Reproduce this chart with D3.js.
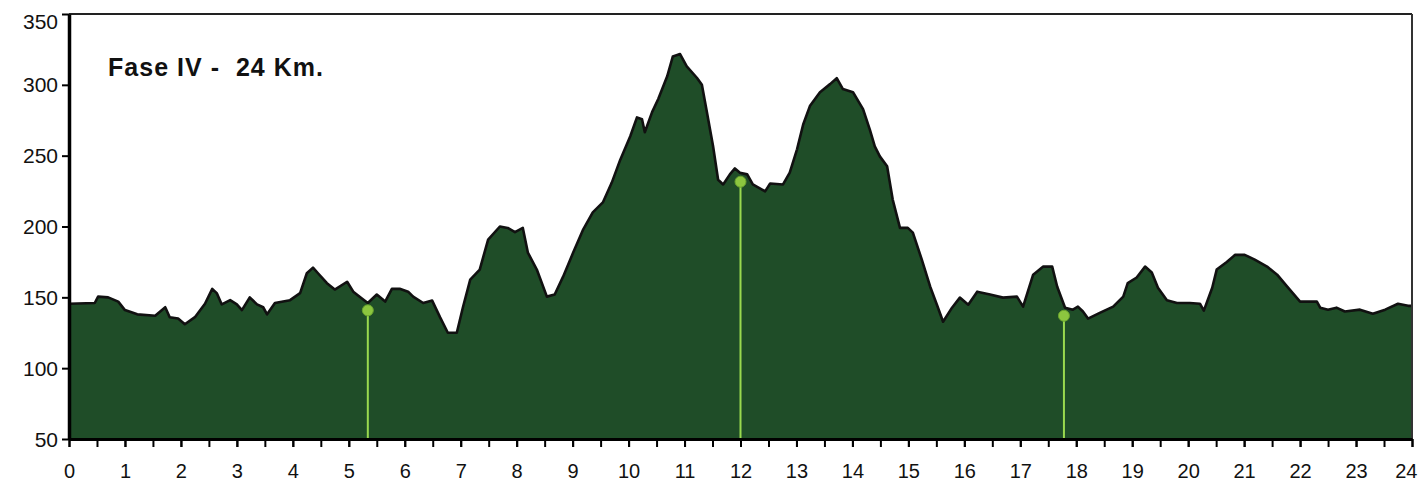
<!DOCTYPE html>
<html>
<head>
<meta charset="utf-8">
<script src="https://cdn.jsdelivr.net/npm/d3@7"></script>
<style>
  body { margin: 0; background: #fff; }
  svg { display: block; }
  text { font-family: "Liberation Sans", Arial, sans-serif; }
</style>
</head>
<body>
<div id="profile"></div>
<script>
// Elevation profile (km, metres)
var km = [0.00, 0.46, 0.52, 0.70, 0.88, 1.00, 1.22, 1.54, 1.72, 1.80, 1.95, 2.07, 2.25, 2.43, 2.56, 2.64, 2.73, 2.88, 3.00, 3.09,
  3.23, 3.36, 3.47, 3.54, 3.68, 3.95, 4.13, 4.25, 4.36, 4.45, 4.61, 4.75, 4.97, 5.08, 5.24, 5.34, 5.50, 5.65, 5.77, 5.91,
  6.06, 6.15, 6.33, 6.49, 6.63, 6.77, 6.93, 7.04, 7.17, 7.34, 7.49, 7.70, 7.84, 7.97, 8.11, 8.20, 8.36, 8.54, 8.68, 8.83,
  9.01, 9.19, 9.36, 9.54, 9.70, 9.85, 10.03, 10.15, 10.24, 10.29, 10.42, 10.53, 10.69, 10.79, 10.92, 11.04, 11.22, 11.31, 11.40, 11.51,
  11.60, 11.69, 11.81, 11.90, 11.99, 12.12, 12.22, 12.44, 12.53, 12.76, 12.88, 13.01, 13.12, 13.24, 13.42, 13.60, 13.72, 13.83, 14.01, 14.19,
  14.31, 14.40, 14.49, 14.62, 14.72, 14.85, 14.99, 15.08, 15.24, 15.39, 15.51, 15.62, 15.78, 15.92, 16.07, 16.23, 16.46, 16.69, 16.94, 17.05,
  17.23, 17.41, 17.57, 17.66, 17.80, 17.94, 18.03, 18.12, 18.21, 18.42, 18.66, 18.84, 18.92, 19.08, 19.23, 19.35, 19.46, 19.62, 19.80, 20.03,
  20.21, 20.28, 20.43, 20.51, 20.69, 20.84, 21.01, 21.19, 21.41, 21.59, 21.77, 22.00, 22.30, 22.36, 22.50, 22.65, 22.80, 23.07, 23.30, 23.52,
  23.75, 23.93, 24.00];
var elev = [145.5, 146, 150.5, 150, 147, 141, 138, 137, 143, 136, 135, 131, 136, 145.5, 156, 153, 145, 148, 145, 141,
  150, 145, 143, 138, 146, 148, 153, 167, 171, 167, 160, 155.5, 161, 154, 149, 146, 152, 147, 156, 156,
  154, 150.5, 146, 147.7, 136, 125, 125, 143, 162.5, 169.6, 190.8, 200, 199, 196, 199, 181.6, 169.6, 150.5, 152, 164.6,
  181.6, 198, 210, 217, 231, 247, 263.7, 277, 275.7, 266.5, 280.7, 290, 306, 320, 321.7, 313, 305, 300, 280.7, 256.6,
  233, 229.7, 236.8, 241, 238, 236.8, 229.7, 224.8, 230.4, 229.7, 238, 254.5, 272, 285, 294.8, 300.5, 304.7, 297, 294.8, 282.8,
  268.6, 256.6, 249.5, 242.5, 219, 199, 199, 195.7, 176.6, 157.5, 144.8, 132.8, 142.7, 149.8, 144.8, 154, 152, 149.8, 150.5, 143.4,
  166, 171.7, 171.7, 157.5, 142.7, 141.3, 143.4, 140, 135, 139, 143.4, 150.5, 160, 164, 171.7, 167.5, 156.8, 148, 146, 146,
  145.5, 140.6, 156.8, 169.6, 175, 180, 180, 176.6, 171.7, 166, 157.5, 147, 147, 142.7, 141.3, 142.7, 140, 141.3, 138.4, 141.3,
  145.5, 144, 144];

// waypoint markers
var markerKm = [5.34, 12.0, 17.78];
var markerElev = [140.8, 231.6, 137];

var xTicks = d3.range(0, 25, 1);
var xMinorTicks = d3.range(0, 24.5, 0.5);
var yTicks = [50, 100, 150, 200, 250, 300, 350];
var title = "Fase IV -  24 Km.";

var data = km.map(function(d, i) { return {km: d, elev: elev[i]}; });

// set dimensions and margins
var margin = {top: 14, right: 5, bottom: 45, left: 69},
  width = 1418 - margin.left - margin.right,
  height = 484 - margin.top - margin.bottom;

var svg = d3.select("#profile")
  .append("svg")
    .attr("width", width + margin.left + margin.right)
    .attr("height", height + margin.top + margin.bottom)
  .append("g")
    .attr("transform", "translate(" + margin.left + "," + margin.top + ")");

var x = d3.scaleLinear()
  .domain([0, 24])
  .range([0, width - 1]);

var y = d3.scaleLinear()
  .domain([50, 350])
  .range([height, 0]);

// filled profile
svg.append("path")
  .datum(data)
  .attr("fill", "#1f4d28")
  .attr("d", d3.area()
    .x(function(d) { return x(d.km); })
    .y0(y(50))
    .y1(function(d) { return y(d.elev); })
  );

// black outline along the top
svg.append("path")
  .datum(data)
  .attr("fill", "none")
  .attr("stroke", "#111")
  .attr("stroke-width", 2.6)
  .attr("stroke-linejoin", "round")
  .attr("d", d3.line()
    .x(function(d) { return x(d.km); })
    .y(function(d) { return y(d.elev); })
  );

// markers
var markers = markerKm.map(function(d, i) { return {km: d, elev: markerElev[i]}; });
svg.selectAll(".mline")
  .data(markers)
  .enter().append("line")
    .attr("x1", function(d) { return x(d.km); })
    .attr("x2", function(d) { return x(d.km); })
    .attr("y1", function(d) { return y(d.elev); })
    .attr("y2", y(50))
    .attr("stroke", "#9ad94f")
    .attr("stroke-width", 2);
svg.selectAll(".mdot")
  .data(markers)
  .enter().append("circle")
    .attr("cx", function(d) { return x(d.km); })
    .attr("cy", function(d) { return y(d.elev); })
    .attr("r", 5.5)
    .attr("fill", "#8cc63f")
    .attr("stroke", "#6aa32e")
    .attr("stroke-width", 1);

// frame: top and right
svg.append("line")
  .attr("x1", 0).attr("x2", width - 1)
  .attr("y1", 0).attr("y2", 0)
  .attr("stroke", "#222").attr("stroke-width", 2);
svg.append("line")
  .attr("x1", width - 1).attr("x2", width - 1)
  .attr("y1", 0).attr("y2", height)
  .attr("stroke", "#333").attr("stroke-width", 2);

// Y axis
var yAxis = svg.append("g")
  .call(d3.axisLeft(y).tickValues(yTicks).tickSize(7).tickSizeOuter(0).tickPadding(4));
yAxis.select(".domain").attr("stroke", "#000").attr("stroke-width", 3.5);
yAxis.selectAll(".tick line").attr("stroke", "#000").attr("stroke-width", 2);
yAxis.selectAll("text")
  .style("font-size", "21px")
  .attr("fill", "#111")
  .attr("dy", function(d) { return d === 350 ? "0.68em" : "0.34em"; });

// X axis, half-km ticks
var xMinor = svg.append("g")
  .attr("transform", "translate(0," + height + ")")
  .call(d3.axisBottom(x).tickValues(xMinorTicks).tickSize(8).tickSizeOuter(0).tickFormat(""));
xMinor.select(".domain").remove();
xMinor.selectAll(".tick line").attr("stroke", "#000").attr("stroke-width", 2);

var xAxis = svg.append("g")
  .attr("transform", "translate(0," + height + ")")
  .call(d3.axisBottom(x).tickValues(xTicks).tickSize(8).tickSizeOuter(0).tickPadding(17).tickFormat(d3.format("d")));
xAxis.select(".domain").attr("stroke", "#000").attr("stroke-width", 3);
xAxis.selectAll(".tick line").attr("stroke", "#000").attr("stroke-width", 2);
xAxis.selectAll("text")
  .style("font-size", "20px")
  .attr("fill", "#111");
// last label sits against the right edge
xAxis.selectAll("text")
  .filter(function(d) { return d === 24; })
  .attr("text-anchor", "end")
  .attr("dx", "5");

// Title
svg.append("text")
  .attr("x", 108 - margin.left)
  .attr("y", 76 - margin.top)
  .style("font-size", "25px")
  .style("font-weight", "bold")
  .attr("fill", "#111")
  .attr("textLength", 215)
  .attr("lengthAdjust", "spacing")
  .attr("xml:space", "preserve")
  .style("white-space", "pre")
  .text(title);
</script>
</body>
</html>
